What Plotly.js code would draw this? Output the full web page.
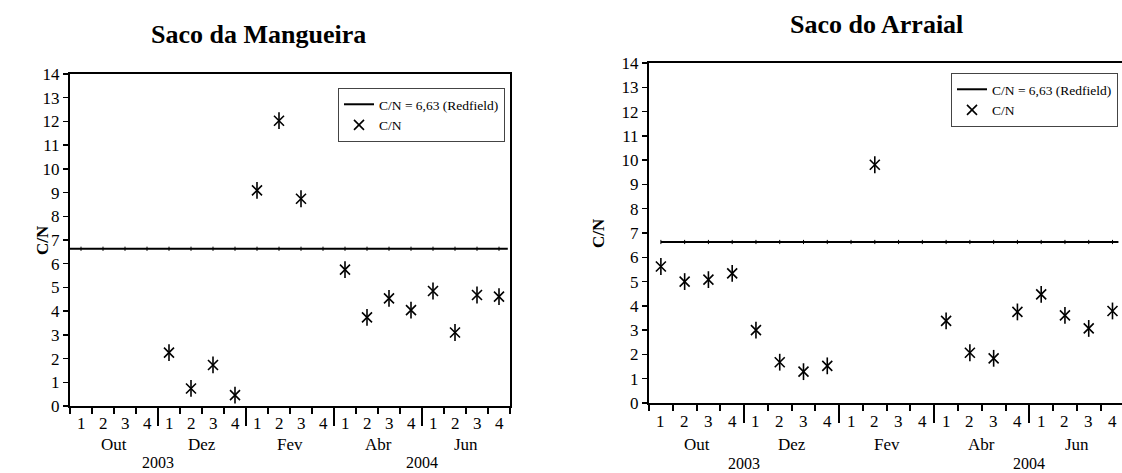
<!DOCTYPE html>
<html>
<head>
<meta charset="utf-8">
<script src="https://cdn.plot.ly/plotly-3.0.1.min.js"></script>
<style>html,body{margin:0;padding:0;background:#fff;}#chart{width:1122px;height:473px;}</style>
</head>
<body>
<div id="chart"></div>
<script>
// ---------------- DATA ----------------
const weeks = ['1', '2', '3', '4'];
const months = ['Out', 'Dez', 'Fev', 'Abr', 'Jun'];
const years = ['2003', '2004'];
const yearGroupBoundary = [1, 4];          // year label sits after this month group
const titles = ['Saco da Mangueira', 'Saco do Arraial'];
const redfieldValue = 6.63;
const redfieldName = 'C/N = 6,63 (Redfield)';
const seriesName = 'C/N';
// C/N per week (Out..Jun, 4 weeks each); null = no sample
const cnMangueira = [null, null, null, null, 2.25, 0.74, 1.73, 0.46, 9.09, 12.03, 8.74, null,
                     5.75, 3.74, 4.54, 4.04, 4.85, 3.10, 4.68, 4.61];
const cnArraial   = [5.62, 5.00, 5.08, 5.34, 3.00, 1.68, 1.29, 1.53, null, 9.81, null, null,
                     3.38, 2.07, 1.84, 3.75, 4.47, 3.61, 3.07, 3.79];

// ---------------- BUILD ----------------
const W = 1122, H = 473;
const FONT = 'Liberation Serif, Times New Roman, serif';
const nWeeks = weeks.length;
const nCats = months.length * nWeeks;
const catX = Array.from({length: nCats}, (_, i) => i + 1);
const groupBounds = months.slice(1).map((_, g) => (g + 1) * nWeeks + 0.5);

function py(pix) { return 1 - pix / H; }

const panels = [
  {data: cnMangueira, xa: 'x', ya: 'y', legend: 'legend', xdom: [70 / W, 510 / W], ydom: [py(406), py(74)],
   xrange: [0.5, 20.5], lineX: [catX[0] - 0.5].concat(catX.slice(1, -1), [catX[nCats - 1] + 0.4]),
   wkY: 423, moY: 444, yrY: 462, titleX: 258, titleY: 35, ytX: 42,
   legX: 505, legY: 88},
  {data: cnArraial, xa: 'x2', ya: 'y2', legend: 'legend2', xdom: [649 / W, 1], ydom: [py(403), py(63)],
   xrange: [0.5, 20.4], lineX: catX.slice(0, -1).concat([catX[nCats - 1] + 0.25]),
   wkY: 421, moY: 444, yrY: 463, titleX: 876, titleY: 24, ytX: 598,
   legX: 1118, legY: 73}
];

const traces = [];
const annotations = [];
const layout = {
  width: W, height: H, margin: {l: 0, r: 0, t: 0, b: 0},
  paper_bgcolor: '#fff', plot_bgcolor: '#fff',
  font: {family: FONT, color: '#000', size: 16},
  annotations: annotations
};

panels.forEach((p, k) => {
  const sfx = k === 0 ? '' : '2';
  const lineY = p.lineX.map(() => redfieldValue);
  traces.push({
    x: p.lineX, y: lineY, xaxis: p.xa, yaxis: p.ya, legend: p.legend,
    type: 'scatter', mode: 'lines', name: redfieldName,
    line: {color: '#000', width: 2}, hoverinfo: 'skip'
  });
  traces.push({
    x: catX, y: catX.map(() => redfieldValue), xaxis: p.xa, yaxis: p.ya, showlegend: false,
    type: 'scatter', mode: 'markers',
    marker: {symbol: 'line-ns-open', size: 3, color: '#000', line: {color: '#000', width: 1}}, hoverinfo: 'skip'
  });
  traces.push({
    x: catX, y: p.data, xaxis: p.xa, yaxis: p.ya, legend: p.legend,
    type: 'scatter', mode: 'markers', name: seriesName,
    marker: {symbol: 'x-thin-open', size: 10, color: '#000', line: {color: '#000', width: 1.6}}
  });
  traces.push({
    x: catX, y: p.data, xaxis: p.xa, yaxis: p.ya, showlegend: false,
    type: 'scatter', mode: 'markers',
    marker: {symbol: 'line-ns-open', size: 12, color: '#000', line: {color: '#000', width: 1.6}}
  });

  layout['xaxis' + sfx] = {
    domain: p.xdom, anchor: 'y' + sfx, range: p.xrange, fixedrange: true,
    showline: true, linecolor: '#000', linewidth: 2, mirror: true,
    showgrid: false, zeroline: false,
    tickmode: 'array', tickvals: groupBounds, ticks: 'outside', ticklen: 18, tickwidth: 2, tickcolor: '#000',
    showticklabels: false,
    minor: {ticks: 'outside', tickmode: 'linear', tick0: 0.5, dtick: 1, ticklen: 6, tickwidth: 2, tickcolor: '#000', showgrid: false}
  };
  layout['yaxis' + sfx] = {
    domain: p.ydom, anchor: 'x' + sfx, range: [0, 14], fixedrange: true,
    showline: true, linecolor: '#000', linewidth: 2, mirror: true,
    showgrid: false, zeroline: false,
    tickmode: 'linear', tick0: 0, dtick: 1, ticks: 'outside', ticklen: 5, tickwidth: 1.5, tickcolor: '#000',
    tickfont: {family: FONT, size: 17, color: '#000'}
  };
  layout[p.legend] = {
    x: p.legX / W, y: py(p.legY), xanchor: 'right', yanchor: 'top',
    bgcolor: '#fff', bordercolor: '#444', borderwidth: 1,
    font: {family: FONT, size: 13.5, color: '#000'}, tracegroupgap: 0, itemwidth: 30
  };

  // week numbers
  catX.forEach((cx, i) => annotations.push({
    x: cx, xref: p.xa, y: py(p.wkY), yref: 'paper', text: weeks[i % nWeeks],
    showarrow: false, xanchor: 'center', yanchor: 'middle', font: {family: FONT, size: 17}
  }));
  // months
  months.forEach((m, g) => annotations.push({
    x: g * nWeeks + (nWeeks + 1) / 2, xref: p.xa, y: py(p.moY), yref: 'paper', text: m,
    showarrow: false, xanchor: 'center', yanchor: 'middle', font: {family: FONT, size: 17}
  }));
  // years
  years.forEach((yv, j) => annotations.push({
    x: yearGroupBoundary[j] * nWeeks + 0.5, xref: p.xa, y: py(p.yrY), yref: 'paper', text: yv,
    showarrow: false, xanchor: 'center', yanchor: 'middle', font: {family: FONT, size: 16}
  }));
  // chart title
  annotations.push({
    x: p.titleX / W, xref: 'paper', y: py(p.titleY), yref: 'paper', text: '<b>' + titles[k] + '</b>',
    showarrow: false, xanchor: 'center', yanchor: 'middle', font: {family: FONT, size: 26}
  });
  // y-axis title
  annotations.push({
    x: p.ytX / W, xref: 'paper', y: (p.ydom[0] + p.ydom[1]) / 2, yref: 'paper', text: '<b>C/N</b>',
    textangle: -90, showarrow: false, xanchor: 'center', yanchor: 'middle', font: {family: FONT, size: 17}
  });
});

Plotly.newPlot('chart', traces, layout, {displayModeBar: false, staticPlot: true});
</script>
</body>
</html>
